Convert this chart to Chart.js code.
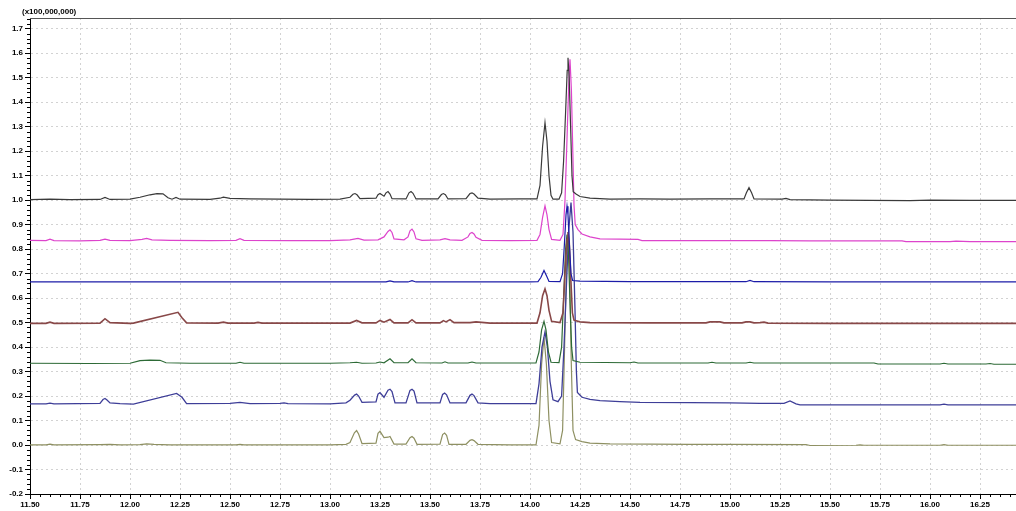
<!DOCTYPE html>
<html>
<head>
<meta charset="utf-8">
<script src="https://cdn.jsdelivr.net/npm/chart.js@4.4.0/dist/chart.umd.min.js"></script>
<style>
  html, body { margin: 0; padding: 0; background: #fff; }
  #wrap { width: 1016px; height: 511px; }
</style>
</head>
<body>
<div id="wrap"><canvas id="myChart" width="1016" height="511"></canvas></div>
<script>
// axis ticks: retention time (min) and intensity (x100,000,000)
var xTicks = [11.50, 11.75, 12.00, 12.25, 12.50, 12.75, 13.00, 13.25, 13.50, 13.75,
              14.00, 14.25, 14.50, 14.75, 15.00, 15.25, 15.50, 15.75, 16.00, 16.25];
var yTicks = [-0.2, -0.1, 0.0, 0.1, 0.2, 0.3, 0.4, 0.5, 0.6, 0.7, 0.8, 0.9,
              1.0, 1.1, 1.2, 1.3, 1.4, 1.5, 1.6, 1.7];

// traces, [time, intensity]
var black = [[11.50,1.002],[11.60,1.004],[11.70,1.002],[11.85,1.003],[11.875,1.011],[11.90,1.003],[12.00,1.004],
  [12.05,1.012],[12.10,1.022],[12.135,1.027],[12.165,1.026],[12.19,1.010],[12.21,1.004],[12.23,1.011],[12.25,1.004],
  [12.40,1.003],[12.45,1.008],[12.467,1.012],[12.50,1.007],[12.60,1.005],[12.75,1.004],[12.90,1.003],[13.05,1.004],
  [13.10,1.012],[13.115,1.024],[13.125,1.027],[13.135,1.022],[13.15,1.006],[13.23,1.008],[13.24,1.022],[13.25,1.027],
  [13.27,1.016],[13.28,1.030],[13.29,1.035],[13.30,1.025],[13.31,1.006],[13.38,1.005],[13.395,1.030],[13.405,1.035],
  [13.415,1.028],[13.43,1.005],[13.54,1.005],[13.557,1.023],[13.567,1.027],[13.577,1.022],[13.59,1.005],[13.68,1.006],
  [13.70,1.027],[13.71,1.030],[13.72,1.025],[13.74,1.008],[13.80,1.004],[13.95,1.005],[14.035,1.005],[14.05,1.060],
  [14.063,1.220],[14.075,1.316],[14.085,1.240],[14.095,1.100],[14.105,1.020],[14.115,1.004],[14.145,1.004],
  [14.158,1.030],[14.168,1.160],[14.178,1.360],[14.186,1.530],[14.19,1.582],[14.196,1.500],[14.203,1.300],
  [14.210,1.100],[14.216,1.035],[14.23,1.025],[14.25,1.015],[14.30,1.008],[14.40,1.004],[14.55,1.005],[14.70,1.004],
  [14.90,1.005],[15.07,1.005],[15.082,1.030],[15.095,1.051],[15.108,1.030],[15.12,1.005],[15.26,1.004],[15.28,1.007],
  [15.30,1.002],[15.50,1.000],[15.70,0.999],[15.90,0.998],[16.00,1.000],[16.20,0.999],[16.43,0.999]];

var magenta = [[11.50,0.836],[11.58,0.835],[11.60,0.841],[11.62,0.835],[11.75,0.834],[11.85,0.836],[11.875,0.841],
  [11.90,0.836],[12.00,0.835],[12.06,0.840],[12.083,0.844],[12.11,0.838],[12.20,0.836],[12.40,0.835],[12.53,0.836],
  [12.55,0.843],[12.57,0.836],[12.80,0.835],[13.00,0.835],[13.10,0.838],[13.14,0.844],[13.17,0.837],[13.24,0.838],
  [13.27,0.850],[13.29,0.872],[13.30,0.879],[13.31,0.868],[13.32,0.842],[13.37,0.838],[13.39,0.850],[13.40,0.875],
  [13.41,0.882],[13.42,0.870],[13.43,0.842],[13.46,0.836],[13.55,0.838],[13.575,0.843],[13.60,0.838],[13.66,0.836],
  [13.69,0.850],[13.70,0.864],[13.71,0.868],[13.72,0.862],[13.73,0.848],[13.76,0.836],[13.90,0.835],[14.035,0.836],
  [14.05,0.860],[14.063,0.930],[14.075,0.977],[14.085,0.940],[14.095,0.880],[14.108,0.840],[14.15,0.836],
  [14.165,0.860],[14.175,1.000],[14.185,1.250],[14.194,1.480],[14.20,1.575],[14.207,1.450],[14.214,1.200],
  [14.220,0.980],[14.226,0.900],[14.24,0.880],[14.26,0.862],[14.30,0.850],[14.35,0.842],[14.45,0.841],[14.54,0.840],
  [14.56,0.835],[15.00,0.835],[15.20,0.835],[15.40,0.834],[15.86,0.834],[15.88,0.831],[16.10,0.831],[16.13,0.833],
  [16.20,0.831],[16.43,0.831]];

var blue = [[11.50,0.666],[12.00,0.666],[12.50,0.666],[13.00,0.666],[13.28,0.666],[13.30,0.670],[13.32,0.666],
  [13.39,0.666],[13.41,0.671],[13.43,0.666],[14.00,0.666],[14.04,0.667],[14.055,0.685],[14.07,0.713],[14.083,0.690],
  [14.095,0.668],[14.15,0.667],[14.163,0.700],[14.172,0.820],[14.18,0.940],[14.185,0.975],[14.19,0.940],
  [14.197,0.820],[14.205,0.700],[14.213,0.672],[14.25,0.669],[14.50,0.667],[15.08,0.667],[15.10,0.672],
  [15.12,0.667],[15.50,0.666],[16.00,0.666],[16.43,0.666]];

var brown = [[11.50,0.497],[11.58,0.497],[11.60,0.502],[11.62,0.497],[11.85,0.498],[11.875,0.516],[11.90,0.500],
  [12.00,0.497],[12.017,0.498],[12.24,0.542],[12.26,0.520],[12.283,0.499],[12.44,0.498],[12.467,0.502],[12.49,0.498],
  [12.62,0.498],[12.64,0.501],[12.66,0.498],[13.10,0.498],[13.133,0.509],[13.16,0.499],[13.23,0.499],[13.25,0.509],
  [13.27,0.502],[13.30,0.513],[13.32,0.499],[13.39,0.499],[13.41,0.512],[13.43,0.499],[13.55,0.499],[13.567,0.508],
  [13.58,0.503],[13.60,0.512],[13.62,0.500],[13.70,0.500],[13.73,0.503],[13.80,0.498],[14.035,0.498],[14.05,0.540],
  [14.063,0.610],[14.075,0.638],[14.085,0.610],[14.095,0.550],[14.108,0.505],[14.15,0.500],[14.165,0.540],
  [14.175,0.700],[14.185,0.840],[14.19,0.870],[14.196,0.830],[14.204,0.680],[14.212,0.540],[14.22,0.510],
  [14.25,0.503],[14.30,0.500],[14.60,0.499],[14.88,0.499],[14.90,0.503],[14.95,0.503],[14.97,0.499],[15.06,0.499],
  [15.08,0.503],[15.10,0.503],[15.12,0.499],[15.15,0.500],[15.17,0.502],[15.19,0.498],[15.50,0.497],[16.00,0.497],
  [16.43,0.497]];

var green = [[11.50,0.334],[11.80,0.333],[12.00,0.334],[12.05,0.345],[12.10,0.347],[12.15,0.346],[12.18,0.336],
  [12.30,0.334],[12.53,0.334],[12.55,0.338],[12.57,0.334],[13.00,0.334],[13.10,0.336],[13.133,0.338],[13.16,0.334],
  [13.23,0.335],[13.25,0.339],[13.27,0.336],[13.30,0.352],[13.32,0.336],[13.39,0.336],[13.41,0.352],[13.43,0.336],
  [13.56,0.335],[13.575,0.340],[13.59,0.335],[13.69,0.335],[13.71,0.339],[13.73,0.335],[14.03,0.335],[14.045,0.380],
  [14.058,0.470],[14.07,0.505],[14.08,0.470],[14.092,0.380],[14.105,0.338],[14.145,0.337],[14.158,0.400],
  [14.168,0.600],[14.178,0.800],[14.185,0.860],[14.192,0.790],[14.200,0.580],[14.208,0.400],[14.215,0.345],
  [14.25,0.338],[14.50,0.336],[14.52,0.339],[14.54,0.335],[14.89,0.335],[14.91,0.338],[14.93,0.335],[15.08,0.335],
  [15.10,0.338],[15.12,0.335],[15.72,0.335],[15.74,0.331],[16.05,0.331],[16.07,0.334],[16.09,0.331],[16.28,0.331],
  [16.30,0.333],[16.32,0.330],[16.43,0.330]];

var navy = [[11.50,0.168],[11.58,0.168],[11.60,0.171],[11.62,0.168],[11.85,0.170],[11.865,0.186],[11.875,0.190],
  [11.885,0.184],[11.90,0.172],[11.95,0.169],[12.017,0.167],[12.233,0.211],[12.26,0.195],[12.283,0.169],[12.50,0.170],
  [12.55,0.174],[12.60,0.169],[12.75,0.170],[12.77,0.172],[12.79,0.169],[13.00,0.168],[13.08,0.172],[13.10,0.183],
  [13.123,0.204],[13.133,0.208],[13.143,0.200],[13.16,0.174],[13.23,0.176],[13.24,0.208],[13.25,0.214],[13.27,0.195],
  [13.29,0.224],[13.30,0.228],[13.31,0.218],[13.325,0.172],[13.38,0.172],[13.40,0.223],[13.41,0.228],[13.42,0.220],
  [13.435,0.172],[13.55,0.172],[13.563,0.207],[13.573,0.212],[13.583,0.205],[13.60,0.172],[13.68,0.172],
  [13.70,0.203],[13.71,0.208],[13.72,0.202],[13.74,0.172],[13.80,0.169],[14.03,0.169],[14.045,0.250],[14.06,0.400],
  [14.075,0.462],[14.087,0.400],[14.10,0.260],[14.115,0.185],[14.14,0.177],[14.158,0.200],[14.170,0.400],
  [14.182,0.650],[14.194,0.880],[14.205,0.990],[14.215,0.870],[14.225,0.550],[14.232,0.300],[14.237,0.215],
  [14.26,0.195],[14.30,0.186],[14.35,0.181],[14.45,0.177],[14.55,0.174],[14.80,0.173],[15.00,0.172],[15.15,0.170],
  [15.27,0.170],[15.30,0.180],[15.33,0.168],[15.35,0.164],[15.70,0.164],[16.05,0.164],[16.07,0.167],[16.09,0.164],
  [16.43,0.164]];

var olive = [[11.50,0.001],[11.58,0.001],[11.60,0.004],[11.62,0.001],[11.85,0.002],[11.90,0.003],[11.95,0.001],
  [12.05,0.002],[12.083,0.005],[12.12,0.003],[12.20,0.001],[12.53,0.001],[12.55,0.003],[12.57,0.001],[13.00,0.001],
  [13.08,0.003],[13.10,0.010],[13.122,0.050],[13.133,0.059],[13.143,0.045],[13.16,0.006],[13.23,0.008],[13.24,0.048],
  [13.25,0.056],[13.27,0.030],[13.29,0.032],[13.30,0.035],[13.32,0.004],[13.38,0.004],[13.40,0.030],[13.41,0.035],
  [13.42,0.028],[13.435,0.003],[13.55,0.004],[13.563,0.043],[13.573,0.049],[13.583,0.040],[13.595,0.003],
  [13.68,0.003],[13.70,0.019],[13.71,0.022],[13.72,0.018],[13.74,0.003],[13.90,0.001],[14.03,0.001],[14.045,0.080],
  [14.058,0.330],[14.07,0.440],[14.082,0.330],[14.095,0.100],[14.108,0.010],[14.15,0.005],[14.163,0.060],
  [14.173,0.400],[14.183,0.750],[14.19,0.860],[14.198,0.740],[14.206,0.350],[14.215,0.060],[14.228,0.022],
  [14.26,0.014],[14.30,0.008],[14.40,0.005],[14.60,0.004],[14.80,0.003],[15.00,0.003],[15.38,0.002],[15.40,-0.002],
  [15.63,-0.001],[15.65,0.001],[15.67,-0.001],[16.05,-0.001],[16.07,0.002],[16.09,-0.001],[16.43,-0.001]];

var traces = [black, magenta, blue, brown, green, navy, olive];
var traceColors = ['#3a3a3a', '#dd44cc', '#1c1ca8', '#884848', '#2d6a36', '#3e3e98', '#8e9062'];
var traceWidths = [1.2, 1.2, 1.2, 1.6, 1.2, 1.3, 1.2];

var tickFont = { family: 'Liberation Sans', size: 8, weight: 'bold' };

// small ticks between labels + border on top + the multiplier label
var extras = {
  id: 'extras',
  afterDraw: function(chart) {
    var ctx = chart.ctx, xs = chart.scales.x, ys = chart.scales.y, a = chart.chartArea;
    ctx.save();
    ctx.strokeStyle = '#000';
    ctx.lineWidth = 1;
    ctx.beginPath();
    for (var i = 0; i <= 98; i++) {
      var t = 11.5 + i * 0.05;
      if (i % 5 === 0 || t > xs.max) continue;
      var px = Math.round(xs.getPixelForValue(t)) + 0.5;
      ctx.moveTo(px, a.bottom);
      ctx.lineTo(px, a.bottom + 3);
    }
    for (var j = 0; j <= 97; j++) {
      var v = -0.2 + j * 0.02;
      if (j % 5 === 0 || v > ys.max) continue;
      var py = Math.round(ys.getPixelForValue(v)) + 0.5;
      ctx.moveTo(a.left, py);
      ctx.lineTo(a.left - 3, py);
    }
    ctx.stroke();
    ctx.strokeStyle = '#555';
    ctx.beginPath();
    ctx.moveTo(a.left, a.top + 0.5);
    ctx.lineTo(a.right, a.top + 0.5);
    ctx.stroke();
    ctx.fillStyle = '#000';
    ctx.font = 'bold 8px "Liberation Sans"';
    ctx.textAlign = 'left';
    ctx.textBaseline = 'middle';
    ctx.fillText('(x100,000,000)', 22, 12);
    ctx.restore();
  }
};

var ctx = document.getElementById('myChart').getContext('2d');
var myChart = new Chart(ctx, {
  type: 'line',
  data: {
    datasets: traces.map(function(tr, k) {
      return {
        data: tr.map(function(p) { return { x: p[0], y: p[1] }; }),
        borderColor: traceColors[k],
        borderWidth: traceWidths[k],
        pointRadius: 0,
        tension: 0,
        fill: false
      };
    })
  },
  options: {
    responsive: false,
    animation: false,
    layout: { padding: { top: 18, left: 0, right: 0, bottom: 0 } },
    plugins: { legend: { display: false }, tooltip: { enabled: false } },
    scales: {
      x: {
        type: 'linear',
        min: 11.5,
        max: 16.43,
        afterBuildTicks: function(s) { s.ticks = xTicks.map(function(v) { return { value: v }; }); },
        afterFit: function(s) { s.height = 17; },
        ticks: {
          autoSkip: false, maxRotation: 0, padding: 1, color: '#000', font: tickFont,
          callback: function(v) { return Number(v).toFixed(2); }
        },
        grid: { color: '#d2d2d2', tickColor: '#000', tickLength: 5 },
        border: { color: '#000', dash: [2, 3] }
      },
      y: {
        min: -0.2,
        max: 1.744,
        afterBuildTicks: function(s) { s.ticks = yTicks.map(function(v) { return { value: v }; }); },
        afterFit: function(s) { s.width = 30; },
        ticks: {
          padding: 2, color: '#000', font: tickFont,
          callback: function(v) { return Number(v).toFixed(1); }
        },
        grid: { color: '#d2d2d2', tickColor: '#000', tickLength: 5 },
        border: { color: '#000', dash: [2, 3] }
      }
    }
  },
  plugins: [extras]
});
</script>
</body>
</html>
